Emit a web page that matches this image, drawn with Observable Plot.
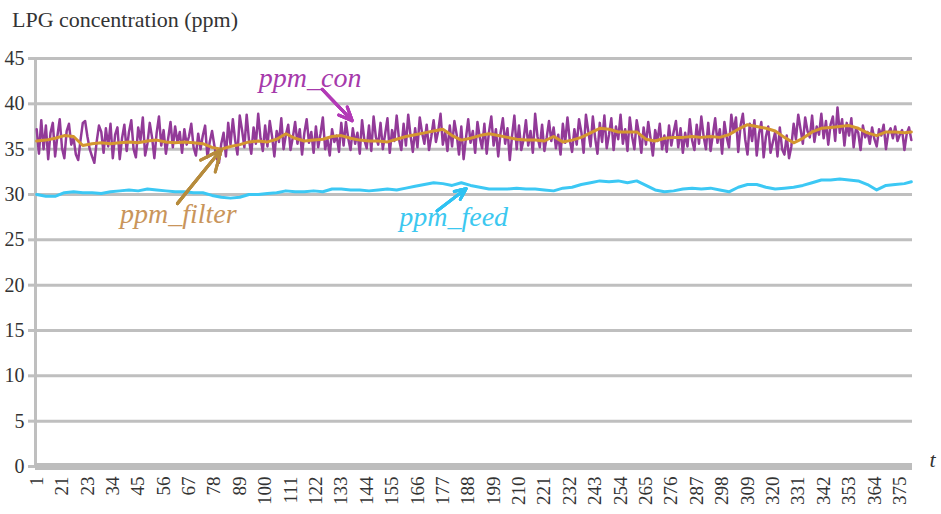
<!DOCTYPE html>
<html><head><meta charset="utf-8">
<script src="https://cdn.jsdelivr.net/npm/d3@7"></script>
<script src="https://cdn.jsdelivr.net/npm/@observablehq/plot@0.6"></script>
<style>
body{margin:0;background:#fff;}
#title{font-family:"Liberation Serif","Times New Roman",Tinos,"DejaVu Serif",serif;font-size:22px;color:#333;height:40px;line-height:40px;padding-left:12px;white-space:nowrap;}
svg text{font-family:"Liberation Serif","Times New Roman",Tinos,"DejaVu Serif",serif !important;}
</style></head><body>
<div id="title">LPG concentration (ppm)</div>
<div id="chart"></div>
<script>
// ppm_con, one value per time step t = 1..380
const ppmCon = [
37.2,34.5,38.2,35.0,37.6,33.9,36.8,37.9,34.2,36.5,38.3,35.1,34.0,37.0,37.8,35.5,36.2,34.4,33.8,36.0,
37.9,38.1,36.4,35.0,34.2,33.5,35.8,37.6,36.9,34.6,37.3,35.3,37.8,34.0,36.6,37.4,33.9,36.2,37.7,34.8,
36.9,38.2,35.0,34.1,37.4,36.0,38.5,34.3,35.6,37.9,36.3,34.0,36.8,38.6,35.4,37.1,34.5,36.2,38.0,35.2,
37.5,35.8,36.9,34.6,37.2,35.5,36.4,37.8,35.2,34.3,36.7,35.0,36.5,37.6,34.1,35.8,37.0,35.4,34.0,33.5,
35.6,36.8,34.2,37.9,35.5,38.3,36.0,34.4,38.7,37.1,35.2,38.8,36.0,34.5,37.4,35.6,38.9,36.2,34.8,37.6,
35.3,38.1,36.4,34.2,37.0,35.8,38.4,35.0,36.6,37.7,34.9,36.3,38.0,35.6,37.2,34.4,36.8,38.3,35.7,36.9,
34.6,37.5,35.2,36.7,38.5,35.0,36.1,34.3,37.2,35.8,36.5,34.7,37.9,35.4,38.0,36.2,34.9,37.3,35.6,36.8,
34.5,38.2,36.0,35.1,37.6,34.8,38.6,36.3,35.5,37.9,35.0,36.7,38.4,34.6,37.1,35.9,38.7,36.1,34.9,37.8,
35.4,38.8,36.5,34.7,37.3,35.2,38.5,36.8,35.6,37.7,34.9,36.4,38.2,35.8,37.0,38.9,35.5,36.9,34.8,37.6,
35.3,38.1,36.6,34.4,37.5,33.9,36.2,38.3,35.7,37.0,34.6,38.0,36.3,35.1,37.8,34.5,36.9,38.6,35.4,37.2,
34.2,36.8,38.4,35.6,37.3,33.8,36.5,38.7,35.0,37.6,34.9,36.1,38.2,35.4,37.0,34.6,38.9,36.4,35.2,37.7,
34.8,36.3,38.1,35.9,37.4,35.1,36.6,34.4,37.8,35.7,38.5,36.0,34.7,37.2,35.5,38.3,36.9,34.6,38.8,37.0,
35.3,38.6,36.2,34.5,37.9,35.8,38.7,35.1,36.6,38.4,34.9,37.5,36.1,38.8,35.6,37.2,34.8,38.5,36.4,35.0,
38.2,36.7,34.6,37.4,35.5,38.0,36.2,34.3,37.1,35.9,37.8,35.0,36.5,34.7,37.6,35.4,36.9,38.1,35.2,37.3,
34.6,36.8,35.3,38.3,36.0,34.9,37.7,35.6,38.6,36.4,35.0,37.9,34.8,36.6,38.4,35.7,37.2,34.5,38.0,36.3,
35.2,38.8,36.9,38.5,34.7,37.6,38.9,36.1,34.4,37.8,35.9,38.2,34.3,36.7,38.0,34.1,36.4,37.5,34.6,35.8,
36.9,34.2,37.4,35.0,34.4,36.5,34.0,35.3,37.8,36.1,38.8,37.2,35.6,38.5,37.0,36.3,38.7,35.8,37.5,36.6,
38.9,36.2,38.1,35.5,37.7,38.6,35.9,39.6,36.8,38.3,35.4,37.9,36.5,38.4,35.2,37.3,36.8,34.9,37.6,36.3,
36.9,35.6,37.4,36.1,35.3,37.2,36.5,37.7,35.0,36.8,37.3,36.2,37.5,35.9,36.6,37.1,34.9,36.7,37.4,36.0
];
// smooth series read every 4 steps: t = 1,5,9,...,377 and 380
const tSmooth = [...Array.from({length:95},(_,i)=>1+4*i), 380];
const ppmFilter = [
35.9,36.0,36.2,36.5,36.4,35.4,35.6,35.7,35.6,35.7,35.8,35.7,35.9,36.0,35.8,35.7,35.8,35.7,35.6,35.2,
35.0,35.3,35.5,35.8,35.9,35.8,36.1,36.7,36.2,35.9,36.0,36.1,36.4,36.5,36.2,36.0,35.9,35.9,35.8,36.1,
36.4,36.6,36.8,37.0,37.2,36.5,36.0,36.2,36.5,36.7,36.5,36.3,36.1,36.0,36.0,35.9,36.4,35.8,36.0,36.3,
36.8,37.3,37.2,36.9,36.9,36.9,36.1,35.9,36.2,36.3,36.3,36.4,36.3,36.4,36.3,36.6,37.2,37.7,37.5,37.3,
37.0,36.3,35.7,36.2,36.9,37.3,37.4,37.5,37.6,37.3,36.8,36.5,36.9,36.9,36.8,36.9
];
const ppmFeed = [
30.0,29.8,29.8,30.2,30.3,30.2,30.2,30.1,30.3,30.4,30.5,30.4,30.6,30.5,30.4,30.3,30.3,30.2,30.2,29.9,
29.7,29.6,29.7,30.0,30.0,30.1,30.2,30.4,30.3,30.3,30.4,30.3,30.6,30.6,30.5,30.5,30.4,30.5,30.6,30.5,
30.7,30.9,31.1,31.3,31.2,31.0,31.3,31.0,30.8,30.6,30.6,30.6,30.7,30.6,30.6,30.5,30.4,30.7,30.8,31.1,
31.3,31.5,31.4,31.5,31.3,31.5,31.0,30.5,30.3,30.4,30.6,30.7,30.6,30.7,30.5,30.3,30.8,31.1,31.1,30.8,
30.6,30.7,30.8,31.0,31.3,31.6,31.6,31.7,31.6,31.5,31.1,30.5,31.0,31.1,31.2,31.4
];
const yTicks = [0,5,10,15,20,25,30,35,40,45];
const xTickT = [1,12,23,34,45,56,67,78,89,100,111,122,133,144,155,166,177,188,199,210,221,232,243,254,265,276,287,298,309,320,331,342,353,364,375];
const xTickLabels = ["1","21","23","34","45","56","67","78","89","100","111","122","133","144","155","166","177","188","199","210","221","232","243","254","265","276","287","298","309","320","331","342","353","364","375"];
const labels = [
  {name:"ppm_con", t:119.5, v:42.8, color:"#a63aab"},
  {name:"ppm_filter", t:62.4, v:27.8, color:"#c9955b"},
  {name:"ppm_feed", t:181.7, v:27.5, color:"#3cc8f0"}
];
const arrows = [
  {t1:124.7, v1:41.6, t2:137.7, v2:38.15, color:"#b23ab6"},
  {t1:62.0, v1:29.0, t2:81.0, v2:34.95, color:"#b68b3c"},
  {t1:174.5, v1:28.2, t2:187.1, v2:30.65, color:"#2ec2f2"}
];

const con = ppmCon.map((v,i)=>({t:i+1, v}));
const filt = ppmFilter.map((v,i)=>({t:tSmooth[i], v}));
const feed = ppmFeed.map((v,i)=>({t:tSmooth[i], v}));
const labMap = new Map(xTickT.map((t,i)=>[t, xTickLabels[i]]));
const grid = "#bfbfbf";
const font = "'Liberation Serif','Times New Roman',Tinos,'DejaVu Serif',serif";

const arrowMarks = [16,12,8,4].map(h => Plot.arrow(arrows, {
  x1:"t1", y1:"v1", x2:"t2", y2:"v2", stroke:d=>d.color, strokeWidth:3,
  headLength:h, headAngle:48
}));

const chart = Plot.plot({
  width:941, height:474,
  marginLeft:35, marginRight:29, marginTop:18, marginBottom:48,
  style:{fontFamily:font, background:"#fff", overflow:"visible"},
  x:{domain:[0.5,380.5], axis:null},
  y:{domain:[0,45], axis:null},
  marks:[
    Plot.ruleY(yTicks.filter(d=>d>0), {stroke:grid, strokeWidth:3}),
    Plot.axisY({ticks:yTicks, tickSize:7, stroke:grid, strokeWidth:3, tickPadding:4, fontSize:20, fill:"#333", label:null}),
    Plot.ruleX([0.5], {stroke:grid, strokeWidth:3}),
    Plot.ruleY([0], {stroke:"#bdbdbd", strokeWidth:7}),
    Plot.axisX({ticks:xTickT, tickFormat:d=>labMap.get(d), tickRotate:-90, tickSize:0, tickPadding:10, fontSize:19, fill:"#333", label:null}),
    Plot.line(feed, {x:"t", y:"v", stroke:"#3cc8f4", strokeWidth:3, strokeLinejoin:"round"}),
    Plot.line(con, {x:"t", y:"v", stroke:"#923a98", strokeWidth:2.5, strokeLinejoin:"round"}),
    Plot.line(filt, {x:"t", y:"v", stroke:"#d4962f", strokeWidth:3, strokeLinejoin:"round"}),
    ...arrowMarks,
    Plot.text(labels, {x:"t", y:"v", text:"name", fill:d=>d.color, fontSize:28, fontStyle:"italic"}),
    Plot.text(["t"], {frameAnchor:"bottom-right", dx:23, dy:0, fontSize:22, fontStyle:"italic", fill:"#333"})
  ]
});
document.getElementById("chart").appendChild(chart);
</script></body></html>
